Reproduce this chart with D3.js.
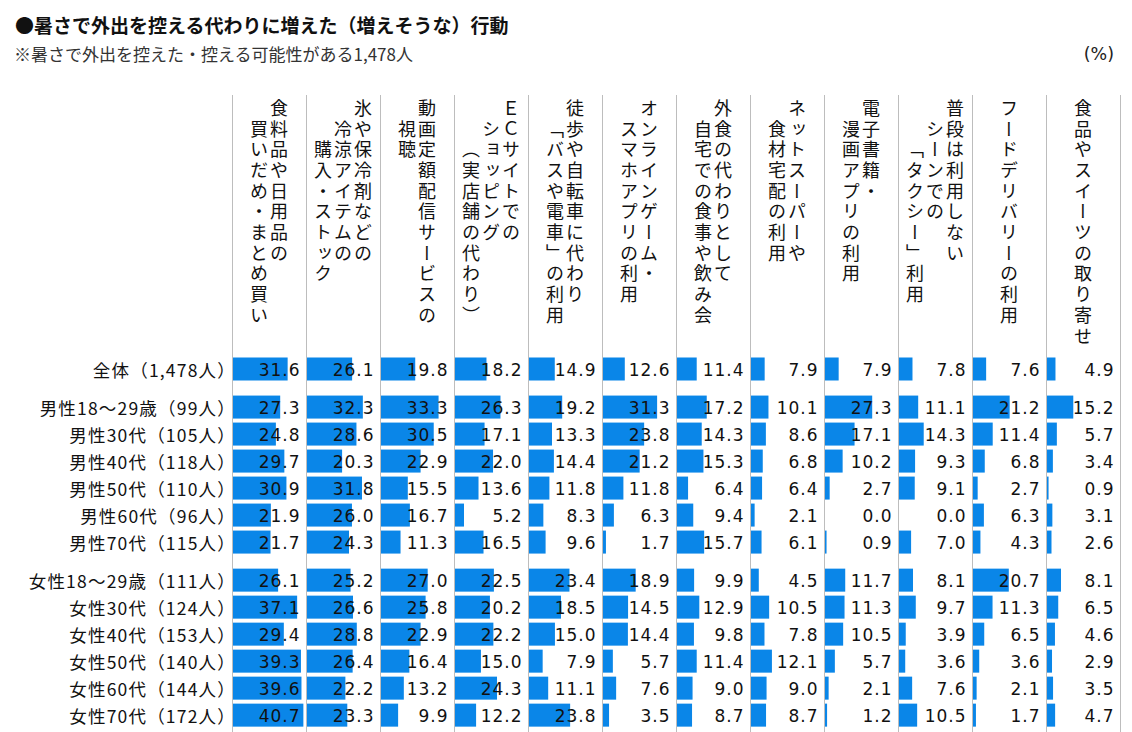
<!DOCTYPE html>
<html>
<head>
<meta charset="utf-8">
<script src="https://cdn.jsdelivr.net/npm/d3@7"></script>
<style>
	body { margin: 0; background: #fff; }
	text { font-family: "Noto Sans CJK JP", "Noto Sans", sans-serif; }
</style>
</head>
<body>
<div id="chart"></div>
<script>

var width = 1132;
var height = 732;

// column headers, one array of lines per column (vertical text)
var headers = [
	["食料品や日用品の", "買いだめ・まとめ買い"],
	["氷や保冷剤などの", "冷涼アイテムの", "購入・ストック"],
	["動画定額配信サービスの", "視聴"],
	["ＥＣサイトでの", "ショッピング", "（実店舗の代わり）"],
	["徒歩や自転車に代わり", "「バスや電車」の利用"],
	["オンラインゲーム・", "スマホアプリの利用"],
	["外食の代わりとして", "自宅での食事や飲み会"],
	["ネットスーパーや", "食材宅配の利用"],
	["電子書籍・", "漫画アプリの利用"],
	["普段は利用しない", "シーンでの", "「タクシー」利用"],
	["フードデリバリーの利用"],
	["食品やスイーツの取り寄せ"]
];

var rowLabels = [
	"全体（1,478人）",
	"男性18～29歳（99人）",
	"男性30代（105人）",
	"男性40代（118人）",
	"男性50代（110人）",
	"男性60代（96人）",
	"男性70代（115人）",
	"女性18～29歳（111人）",
	"女性30代（124人）",
	"女性40代（153人）",
	"女性50代（140人）",
	"女性60代（144人）",
	"女性70代（172人）"
];

// 0 = total, 1 = men, 2 = women
var rowGroups = [0, 1, 1, 1, 1, 1, 1, 2, 2, 2, 2, 2, 2];

var values = [
	[31.6, 26.1, 19.8, 18.2, 14.9, 12.6, 11.4, 7.9, 7.9, 7.8, 7.6, 4.9],
	[27.3, 32.3, 33.3, 26.3, 19.2, 31.3, 17.2, 10.1, 27.3, 11.1, 21.2, 15.2],
	[24.8, 28.6, 30.5, 17.1, 13.3, 23.8, 14.3, 8.6, 17.1, 14.3, 11.4, 5.7],
	[29.7, 20.3, 22.9, 22.0, 14.4, 21.2, 15.3, 6.8, 10.2, 9.3, 6.8, 3.4],
	[30.9, 31.8, 15.5, 13.6, 11.8, 11.8, 6.4, 6.4, 2.7, 9.1, 2.7, 0.9],
	[21.9, 26.0, 16.7, 5.2, 8.3, 6.3, 9.4, 2.1, 0.0, 0.0, 6.3, 3.1],
	[21.7, 24.3, 11.3, 16.5, 9.6, 1.7, 15.7, 6.1, 0.9, 7.0, 4.3, 2.6],
	[26.1, 25.2, 27.0, 22.5, 23.4, 18.9, 9.9, 4.5, 11.7, 8.1, 20.7, 8.1],
	[37.1, 26.6, 25.8, 20.2, 18.5, 14.5, 12.9, 10.5, 11.3, 9.7, 11.3, 6.5],
	[29.4, 28.8, 22.9, 22.2, 15.0, 14.4, 9.8, 7.8, 10.5, 3.9, 6.5, 4.6],
	[39.3, 26.4, 16.4, 15.0, 7.9, 5.7, 11.4, 12.1, 5.7, 3.6, 3.6, 2.9],
	[39.6, 22.2, 13.2, 24.3, 11.1, 7.6, 9.0, 9.0, 2.1, 7.6, 2.1, 3.5],
	[40.7, 23.3, 9.9, 12.2, 23.8, 3.5, 8.7, 8.7, 1.2, 10.5, 1.7, 4.7]
];

var svg = d3.select("#chart")
	.append("svg")
	.attr("width", width)
	.attr("height", height);

var col = d3.scaleBand()
	.domain(d3.range(headers.length))
	.range([232, 1120])
	.padding(0);

// row slot = index + extra gap per group
var groupGap = 0.41;
var y = d3.scaleLinear()
	.domain([0, 1])
	.range([369, 396]);
function rowY(i) { return y(i + rowGroups[i] * groupGap); }

var x = d3.scaleLinear()
	.domain([0, 42.8])
	.range([0, 74]);

var barH = 23;

// titles
svg.append("text")
	.attr("x", 15)
	.attr("y", 24)
	.attr("dominant-baseline", "central")
	.attr("font-size", 19)
	.attr("font-weight", "bold")
	.attr("fill", "#111")
	.text("●暑さで外出を控える代わりに増えた（増えそうな）行動");

svg.append("text")
	.attr("x", 14)
	.attr("y", 53)
	.attr("dominant-baseline", "central")
	.attr("font-size", 17)
	.attr("fill", "#333")
	.text("※暑さで外出を控えた・控える可能性がある1,478人");

svg.append("text")
	.attr("x", 1114)
	.attr("y", 54)
	.attr("text-anchor", "end")
	.attr("dominant-baseline", "central")
	.attr("font-size", 17.5)
	.attr("fill", "#222")
	.style("font-family", "'DejaVu Sans', sans-serif")
	.text("(%)");

// column separators
svg.append("g")
	.selectAll("line")
	.data(d3.range(headers.length + 1))
	.enter()
	.append("line")
	.attr("x1", function(d) { return d < headers.length ? col(d) : col.range()[1]; })
	.attr("x2", function(d) { return d < headers.length ? col(d) : col.range()[1]; })
	.attr("y1", 95)
	.attr("y2", height)
	.attr("stroke", "#bdbdbd")
	.attr("stroke-width", 1)
	.attr("shape-rendering", "crispEdges");

// vertical headers
var rowStep = 20.7;
var lineStep = 20;
var head = svg.append("g")
	.selectAll("g")
	.data(headers)
	.enter()
	.append("g");

head.selectAll("text")
	.data(function(lines, c) {
		return lines.map(function(t, i) { return { t: t, i: i, n: lines.length, c: c }; });
	})
	.enter()
	.append("text")
	.attr("x", function(d) { return col(d.c) + col.bandwidth() / 2 + ((d.n - 1) / 2 - d.i) * lineStep; })
	.attr("y", function(d) { return 99 + d.i * rowStep; })
	.attr("font-size", 18)
	.attr("letter-spacing", rowStep - 18)
	.attr("fill", "#111")
	.style("writing-mode", "vertical-rl")
	.text(function(d) { return d.t; });

// row labels
svg.append("g")
	.selectAll("text")
	.data(rowLabels)
	.enter()
	.append("text")
	.attr("x", 236)
	.attr("y", function(d, i) { return rowY(i); })
	.attr("text-anchor", "end")
	.attr("dominant-baseline", "central")
	.attr("font-size", 17.5)
	.attr("letter-spacing", 1.2)
	.attr("fill", "#111")
	.text(function(d) { return d; });

// bars and values
var rows = svg.append("g")
	.selectAll("g")
	.data(values)
	.enter()
	.append("g")
	.attr("transform", function(d, i) { return "translate(0," + rowY(i) + ")"; });

var cells = rows.selectAll("g")
	.data(function(d) { return d; })
	.enter()
	.append("g")
	.attr("transform", function(d, c) { return "translate(" + col(c) + ",0)"; });

cells.append("rect")
	.attr("x", 1)
	.attr("y", -barH / 2)
	.attr("width", function(d) { return x(d); })
	.attr("height", barH)
	.attr("fill", "#0a86e8");

cells.append("text")
	.attr("x", 68.5)
	.attr("y", 1)
	.attr("text-anchor", "end")
	.attr("dominant-baseline", "central")
	.attr("font-size", 17)
	.attr("letter-spacing", 1)
	.attr("fill", "#111")
	.style("font-family", "'DejaVu Sans', sans-serif")
	.text(function(d) { return d.toFixed(1); });

</script>
</body>
</html>
